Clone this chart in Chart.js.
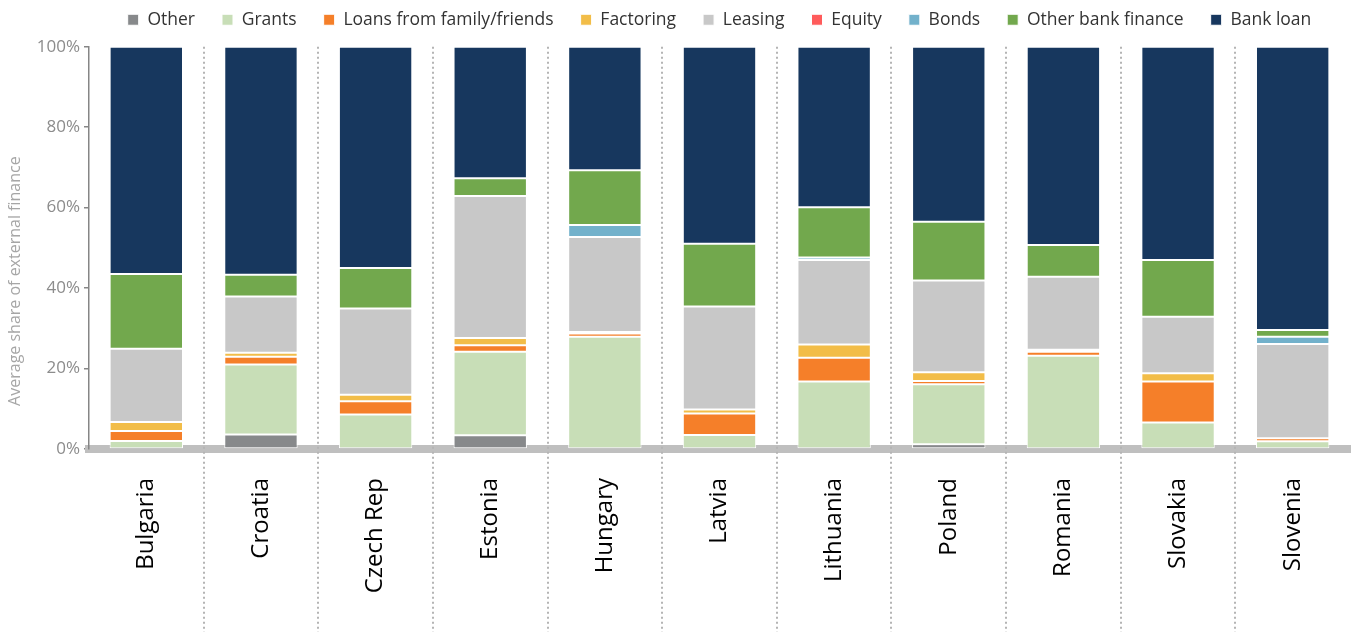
<!DOCTYPE html>
<html>
<head>
<meta charset="utf-8">
<script src="https://cdn.jsdelivr.net/npm/chart.js@4"></script>
<style>
  html, body { margin: 0; padding: 0; background: #fff; }
  #wrap { width: 1354px; height: 632px; }
</style>
</head>
<body>
<div id="wrap"><canvas id="chart"></canvas></div>
<script>
var countries = ['Bulgaria', 'Croatia', 'Czech Rep', 'Estonia', 'Hungary', 'Latvia',
                 'Lithuania', 'Poland', 'Romania', 'Slovakia', 'Slovenia'];

// average share of external finance, %
var other       = [0,    3.6,  0,    3.4,  0,    0,    0,    1.2,  0,    0,    0];
var grants      = [2.0,  17.4, 8.6,  20.8, 27.9, 3.5,  16.8, 14.9, 23.2, 6.6,  1.9];
var loansFamily = [2.5,  1.9,  3.3,  1.6,  0.8,  5.3,  5.9,  0.8,  1.0,  10.2, 0.8];
var factoring   = [2.2,  1.0,  1.6,  1.8,  0.4,  1.0,  3.3,  2.2,  0.5,  2.0,  0];
var leasing     = [18.2, 14.0, 21.4, 35.3, 23.6, 25.6, 21.0, 22.8, 18.1, 14.1, 23.4];
var equity      = [0,    0,    0,    0,    0,    0,    0,    0,    0,    0,    0];
var bonds       = [0,    0,    0,    0,    3.0,  0,    0.6,  0,    0,    0,    1.8];
var otherBank   = [18.6, 5.4,  10.1, 4.4,  13.6, 15.6, 12.5, 14.6, 7.9,  14.1, 1.7];
var bankLoan    = [56.5, 56.7, 55.0, 32.7, 30.7, 49.0, 39.9, 43.5, 49.3, 53.0, 70.4];

var yTicks = [0, 20, 40, 60, 80, 100];

function series(label, data, color) {
    return {
        label: label,
        data: data,
        backgroundColor: color,
        borderColor: '#ffffff',
        borderWidth: 1,
        borderSkipped: false,
        barPercentage: 0.64,
        categoryPercentage: 1
    };
}

// dotted separators between countries, down to the bottom of the canvas
var separators = {
    id: 'separators',
    beforeDatasetsDraw: function(chart) {
        var ctx = chart.ctx, x = chart.scales.x;
        ctx.save();
        ctx.strokeStyle = '#b4b4b4';
        ctx.lineWidth = 2;
        ctx.setLineDash([2, 3]);
        for (var i = 1; i < countries.length; i++) {
            var px = Math.round((x.getPixelForValue(i - 1) + x.getPixelForValue(i)) / 2);
            ctx.beginPath();
            ctx.moveTo(px, chart.chartArea.top);
            ctx.lineTo(px, chart.height);
            ctx.stroke();
        }
        ctx.restore();
    }
};

new Chart(document.getElementById('chart').getContext('2d'), {
    type: 'bar',
    data: {
        labels: countries,
        datasets: [
            series('Other', other, '#87898b'),
            series('Grants', grants, '#c8deb7'),
            series('Loans from family/friends', loansFamily, '#f57f29'),
            series('Factoring', factoring, '#f2bd48'),
            series('Leasing', leasing, '#c8c8c8'),
            series('Equity', equity, '#ff5b5b'),
            series('Bonds', bonds, '#72b1cb'),
            series('Other bank finance', otherBank, '#72a84d'),
            series('Bank loan', bankLoan, '#17375e')
        ]
    },
    options: {
        responsive: true,
        maintainAspectRatio: false,
        animation: false,
        layout: { padding: { top: -16, right: 4, bottom: 0, left: 0 } },
        plugins: {
            legend: {
                display: true,
                position: 'top',
                fullSize: false,
                labels: {
                    boxWidth: 11,
                    boxHeight: 11,
                    padding: 27,
                    color: '#333333',
                    font: { family: "'Open Sans', sans-serif", size: 17.5 }
                }
            },
            subtitle: {
                display: true,
                text: '',
                weight: 500,
                padding: { top: 7, bottom: 0 },
                font: { size: 1 }
            },
            tooltip: { enabled: false }
        },
        scales: {
            x: {
                stacked: true,
                offset: true,
                z: 1,
                grid: { display: false, drawTicks: false },
                border: { display: true, color: '#bfbfbf', width: 8 },
                ticks: {
                    minRotation: 90,
                    maxRotation: 90,
                    padding: 29,
                    color: '#000000',
                    font: { family: "'Open Sans', sans-serif", size: 24 }
                },
                afterFit: function(scale) { scale.height = 183; }
            },
            y: {
                stacked: true,
                min: 0,
                max: 100,
                afterBuildTicks: function(scale) {
                    scale.ticks = yTicks.map(function(v) { return { value: v }; });
                },
                grid: { drawOnChartArea: false, tickLength: 5, color: '#868686', lineWidth: 1.5 },
                border: { display: true, color: '#868686', width: 1.5 },
                ticks: {
                    padding: 4,
                    color: '#8c8c8c',
                    font: { family: "'Open Sans', sans-serif", size: 17 },
                    callback: function(v) { return v + '%'; }
                },
                title: {
                    display: true,
                    text: 'Average share of external finance                ',
                    color: '#a6a6a6',
                    padding: { top: 6, bottom: 0 },
                    font: { family: "'Open Sans', sans-serif", size: 16 }
                },
                afterFit: function(scale) { scale.width = 89; }
            }
        }
    },
    plugins: [separators]
});
</script>
</body>
</html>
